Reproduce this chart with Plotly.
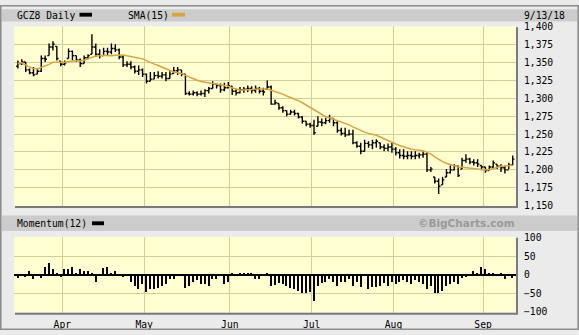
import plotly.graph_objects as go
import pandas as pd

W, H = 579, 335

# ---- data ----
high = [1353, 1355, 1351, 1342, 1344, 1342, 1360, 1360, 1377, 1380,
        1373, 1352, 1353, 1370, 1367, 1360, 1356, 1360, 1362, 1390,
        1377, 1369, 1371, 1371, 1377, 1376, 1370, 1360, 1352, 1352,
        1346, 1346, 1342, 1335, 1337, 1337, 1338, 1337, 1337, 1338,
        1344, 1344, 1340, 1334, 1310, 1311, 1310, 1311, 1313, 1316,
        1324, 1321, 1321, 1322, 1323, 1317, 1314, 1316, 1316, 1318,
        1317, 1318, 1316, 1315, 1325, 1318, 1298, 1293, 1289, 1283,
        1284, 1284, 1280, 1275, 1268, 1266, 1270, 1275, 1272, 1273,
        1277, 1272, 1268, 1259, 1259, 1256, 1256, 1240, 1238, 1242,
        1240, 1242, 1243, 1238, 1236, 1237, 1238, 1232, 1229, 1229,
        1226, 1226, 1226, 1224, 1226, 1224, 1204, 1190, 1188, 1190,
        1201, 1206, 1208, 1206, 1217, 1222, 1217, 1215, 1215, 1206,
        1204, 1206, 1213, 1208, 1208, 1206, 1210, 1220]
low = [1342, 1347, 1337, 1334, 1331, 1334, 1337, 1351, 1360, 1367,
       1353, 1345, 1346, 1356, 1353, 1351, 1344, 1349, 1355, 1362,
       1358, 1356, 1360, 1360, 1362, 1365, 1355, 1344, 1344, 1341,
       1335, 1333, 1330, 1321, 1324, 1327, 1328, 1328, 1324, 1328,
       1335, 1333, 1331, 1305, 1304, 1304, 1303, 1304, 1302, 1307,
       1314, 1314, 1308, 1310, 1314, 1305, 1304, 1307, 1308, 1309,
       1307, 1308, 1307, 1304, 1313, 1291, 1291, 1284, 1280, 1275,
       1277, 1276, 1272, 1265, 1261, 1259, 1249, 1261, 1261, 1264,
       1266, 1261, 1252, 1248, 1246, 1248, 1236, 1231, 1222, 1226,
       1231, 1229, 1231, 1229, 1226, 1226, 1224, 1220, 1216, 1215,
       1215, 1215, 1215, 1216, 1217, 1197, 1197, 1181, 1166, 1179,
       1190, 1195, 1199, 1190, 1201, 1210, 1208, 1206, 1204, 1201,
       1196, 1199, 1201, 1201, 1197, 1195, 1201, 1206]
close = [1349, 1351, 1340, 1336, 1333, 1338, 1356, 1355, 1372, 1376,
         1356, 1348, 1350, 1366, 1360, 1354, 1349, 1357, 1360, 1372,
         1362, 1360, 1366, 1365, 1370, 1368, 1358, 1347, 1348, 1344,
         1338, 1340, 1334, 1324, 1327, 1332, 1331, 1333, 1328, 1334,
         1339, 1340, 1334, 1307, 1306, 1308, 1306, 1307, 1311, 1314,
         1320, 1318, 1312, 1315, 1318, 1310, 1308, 1312, 1313, 1314,
         1311, 1314, 1310, 1309, 1316, 1292, 1294, 1287, 1283, 1278,
         1281, 1279, 1274, 1268, 1264, 1262, 1252, 1267, 1266, 1269,
         1272, 1266, 1255, 1251, 1249, 1250, 1238, 1233, 1226, 1237,
         1235, 1238, 1240, 1232, 1230, 1232, 1229, 1224, 1220, 1219,
         1220, 1219, 1220, 1221, 1222, 1200, 1201, 1184, 1177, 1186,
         1196, 1200, 1205, 1192, 1213, 1215, 1211, 1210, 1208, 1204,
         1199, 1204, 1210, 1205, 1203, 1200, 1207, 1215]
open_ = [1345, 1349, 1351, 1340, 1336, 1334, 1338, 1356, 1360, 1372,
         1373, 1352, 1348, 1356, 1366, 1360, 1354, 1349, 1357, 1362,
         1372, 1362, 1360, 1366, 1365, 1370, 1368, 1358, 1347, 1348,
         1344, 1338, 1340, 1334, 1324, 1327, 1332, 1331, 1333, 1328,
         1335, 1339, 1340, 1334, 1307, 1306, 1308, 1306, 1307, 1311,
         1314, 1320, 1318, 1312, 1315, 1317, 1310, 1308, 1312, 1313,
         1314, 1311, 1314, 1310, 1313, 1316, 1292, 1293, 1287, 1283,
         1278, 1281, 1279, 1274, 1268, 1264, 1262, 1261, 1267, 1266,
         1269, 1272, 1266, 1255, 1251, 1249, 1250, 1238, 1233, 1226,
         1237, 1235, 1238, 1238, 1232, 1230, 1232, 1229, 1224, 1220,
         1219, 1220, 1219, 1220, 1221, 1222, 1200, 1190, 1184, 1179,
         1190, 1196, 1200, 1205, 1201, 1213, 1215, 1211, 1210, 1206,
         1204, 1199, 1204, 1208, 1205, 1203, 1200, 1207]
momentum = [-9, 0, -6, 11, -11, 0, -9, 22, 32, 17,
            4, -6, 15, 15, 22, 4, 17, 11, 11, 4,
            -20, 0, 19, 22, 4, 11, -4, -6, -4, -20,
            -31, -38, -26, -45, -38, -38, -36, -31, -24, -11,
            -11, -4, 0, -36, -31, -20, -15, -24, -24, -29,
            -11, -11, 0, -24, -20, 6, 0, 3, 3, 3,
            6, -10, -11, 0, 3, -31, -27, -22, -24, -31,
            -35, -38, -44, -50, -50, -46, -70, -29, -22, -18,
            -11, -18, -29, -18, -18, -11, -31, -18, -32, 0,
            -38, -32, -32, -29, -22, -31, -18, -24, -18, -15,
            -18, -26, -15, -18, -26, -38, -31, -50, -50, -44,
            -31, -26, -18, -24, -9, -6, -4, 11, 4, 20,
            15, 6, 3, -3, 3, -11, -4, -9]
months = ["Apr", "May", "Jun", "Jul", "Aug", "Sep"]
month_start = [12, 33, 55, 76, 97, 120]   # trading-day index of first session
price_ticks = [1150, 1175, 1200, 1225, 1250, 1275, 1300, 1325, 1350, 1375, 1400]
mom_ticks = [-100, -50, 0, 50, 100]

# ---- derived ----
x = list(range(len(close)))
sma = pd.Series(close).rolling(15, min_periods=1).mean()
grid_x = [m - 0.6 for m in month_start]

GRID = "#cfcf98"
SMA_COL = "#d9a441"
FONT = dict(family="DejaVu Sans Mono", size=9.7, color="black")


def fx(p):
    return p / W


def fy(p):
    return 1 - p / H


fig = go.Figure()
fig.add_trace(go.Ohlc(
    x=x, open=open_, high=high, low=low, close=close,
    increasing=dict(line=dict(color="black", width=1.4)),
    decreasing=dict(line=dict(color="black", width=1.4)),
    tickwidth=0.45, xaxis="x", yaxis="y", hoverinfo="skip", showlegend=False))
fig.add_trace(go.Scatter(
    x=x, y=sma, mode="lines", line=dict(color=SMA_COL, width=1.5),
    xaxis="x", yaxis="y", hoverinfo="skip", showlegend=False))
fig.add_trace(go.Bar(
    x=x, y=momentum, width=0.38,
    marker=dict(color="black", line=dict(width=0)),
    xaxis="x2", yaxis="y2", hoverinfo="skip", showlegend=False))

shapes = [
    # outer frame
    dict(type="rect", xref="paper", yref="paper", x0=fx(0.8), x1=fx(578.2), y0=fy(334.2), y1=fy(0.8),
         line=dict(color="#8c8c8c", width=1.6), layer="above"),
    # header bars
    dict(type="rect", xref="paper", yref="paper", x0=fx(2), x1=fx(577), y0=fy(17), y1=fy(4.5),
         fillcolor="#cccccc", line=dict(width=0), layer="below"),
    dict(type="rect", xref="paper", yref="paper", x0=fx(2), x1=fx(577), y0=fy(233), y1=fy(217),
         fillcolor="#cccccc", line=dict(width=0), layer="below"),
    # legend swatches
    dict(type="rect", xref="paper", yref="paper", x0=fx(79.5), x1=fx(92), y0=fy(12), y1=fy(8),
         fillcolor="black", line=dict(width=0)),
    dict(type="rect", xref="paper", yref="paper", x0=fx(172), x1=fx(185), y0=fy(12), y1=fy(8),
         fillcolor=SMA_COL, line=dict(width=0)),
    dict(type="rect", xref="paper", yref="paper", x0=fx(92), x1=fx(104), y0=fy(227), y1=fy(223),
         fillcolor="black", line=dict(width=0)),
    # plot shadows (bottom + right)
    dict(type="line", xref="paper", yref="paper", x0=fx(15), x1=fx(517.5), y0=fy(208.3), y1=fy(208.3),
         line=dict(color="#7a7a7a", width=2)),
    dict(type="line", xref="paper", yref="paper", x0=fx(517), x1=fx(517), y0=fy(209), y1=fy(23),
         line=dict(color="#7a7a7a", width=2)),
    dict(type="line", xref="paper", yref="paper", x0=fx(15), x1=fx(517.5), y0=fy(318.3), y1=fy(318.3),
         line=dict(color="#7a7a7a", width=2)),
    dict(type="line", xref="paper", yref="paper", x0=fx(517), x1=fx(517), y0=fy(319), y1=fy(240),
         line=dict(color="#7a7a7a", width=2)),
]

annotations = [
    dict(text="GCZ8 Daily", x=fx(15), y=fy(10.5), xref="paper", yref="paper",
         xanchor="left", yanchor="middle", showarrow=False, font=FONT),
    dict(text="SMA(15)", x=fx(126), y=fy(10.5), xref="paper", yref="paper",
         xanchor="left", yanchor="middle", showarrow=False, font=FONT),
    dict(text="9/13/18", x=fx(567), y=fy(10.5), xref="paper", yref="paper",
         xanchor="right", yanchor="middle", showarrow=False, font=FONT),
    dict(text="Momentum(12)", x=fx(15), y=fy(225), xref="paper", yref="paper",
         xanchor="left", yanchor="middle", showarrow=False, font=FONT),
    dict(text="<b>©BigCharts.com</b>", x=fx(517), y=fy(225), xref="paper", yref="paper",
         xanchor="right", yanchor="middle", showarrow=False,
         font=dict(family="DejaVu Sans", size=10.5, color="#9a9a9a")),
]

fig.update_layout(
    width=W, height=H, margin=dict(l=0, r=0, t=0, b=0),
    paper_bgcolor="#ebebeb", plot_bgcolor="#fffed0",
    showlegend=False, bargap=0,
    shapes=shapes, annotations=annotations,
    xaxis=dict(domain=[fx(14), fx(516)], range=[-1.0, 127.85], anchor="y",
               tickvals=grid_x, showticklabels=False, ticks="",
               showgrid=True, gridcolor=GRID, gridwidth=1, zeroline=False,
               rangeslider=dict(visible=False), fixedrange=True),
    yaxis=dict(domain=[fy(207), fy(22)], range=[1149.6, 1401], anchor="x", side="right",
               tickvals=price_ticks, tickformat=",d", ticks="", ticklabelstandoff=7,
               showgrid=True, gridcolor=GRID, gridwidth=1, zeroline=False,
               tickfont=FONT, fixedrange=True),
    xaxis2=dict(domain=[fx(14), fx(516)], range=[-1.0, 127.85], anchor="y2",
                tickvals=grid_x, ticktext=months, ticks="", ticklabelstandoff=5,
                showgrid=True, gridcolor=GRID, gridwidth=1, zeroline=False,
                tickfont=FONT, fixedrange=True),
    yaxis2=dict(domain=[fy(317), fy(239)], range=[-102, 102], anchor="x2", side="right",
                tickvals=mom_ticks, ticks="", ticklabelstandoff=7,
                showgrid=True, gridcolor=GRID, gridwidth=1,
                zeroline=True, zerolinecolor="black", zerolinewidth=1.5,
                tickfont=FONT, fixedrange=True),
)

fig.write_html("out.html")
